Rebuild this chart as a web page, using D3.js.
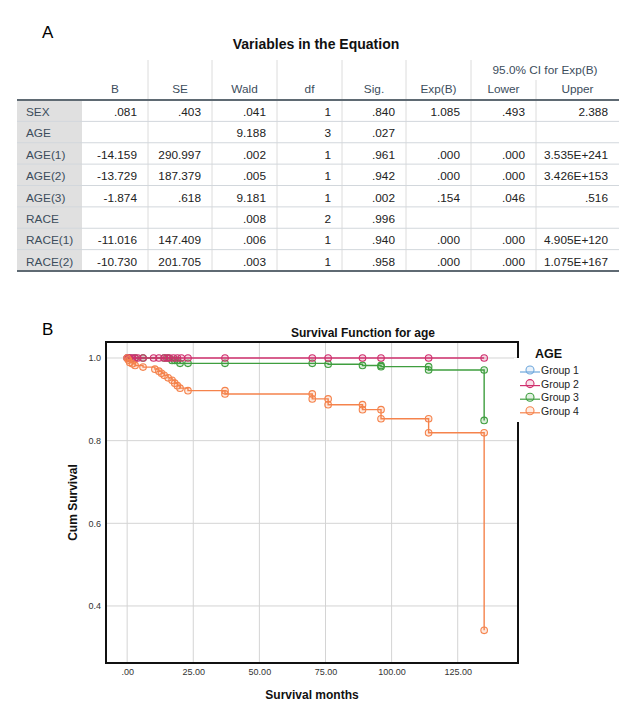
<!DOCTYPE html>
<html>
<head>
<meta charset="utf-8">
<script src="https://cdn.jsdelivr.net/npm/d3@7"></script>
<style>
  body { margin: 0; background: #fff; }
  svg { display: block; font-family: Arial, "Liberation Sans", sans-serif; }
</style>
</head>
<body>
<svg id="fig" width="636" height="718"></svg>
<script>
// ---- table data (panel A)
var rowLabels = ['SEX', 'AGE', 'AGE(1)', 'AGE(2)', 'AGE(3)', 'RACE', 'RACE(1)', 'RACE(2)']
var colHeaders = ['B', 'SE', 'Wald', 'df', 'Sig.', 'Exp(B)', 'Lower', 'Upper']
var colB = ['.081', '', '-14.159', '-13.729', '-1.874', '', '-11.016', '-10.730']
var colSE = ['.403', '', '290.997', '187.379', '.618', '', '147.409', '201.705']
var colWald = ['.041', '9.188', '.002', '.005', '9.181', '.008', '.006', '.003']
var colDf = ['1', '3', '1', '1', '1', '2', '1', '1']
var colSig = ['.840', '.027', '.961', '.942', '.002', '.996', '.940', '.958']
var colExpB = ['1.085', '', '.000', '.000', '.154', '', '.000', '.000']
var colLower = ['.493', '', '.000', '.000', '.046', '', '.000', '.000']
var colUpper = ['2.388', '', '3.535E+241', '3.426E+153', '.516', '', '4.905E+120', '1.075E+167']

// ---- survival data (panel B), step points [time, cum survival] and censor marks
var groups = ['Group 1', 'Group 2', 'Group 3', 'Group 4']
var colors = ['#6fa8dc', '#d0306e', '#3f9e3f', '#f5834c']

var g1Times = [0, 1.5]
var g1Surv = [1.0, 1.0]
var g1CensT = [0, 0.5, 1.5]
var g1CensS = [1.0, 1.0, 1.0]

var g2Times = [0, 135]
var g2Surv = [1.0, 1.0]
var g2CensT = [0, 0.5, 1, 2, 3, 4, 6, 10, 12, 14, 15, 16, 17.5, 19, 20.5, 23, 37, 70, 76, 89, 96, 114, 135]
var g2CensS = [1, 1, 1, 1, 1, 1, 1, 1, 1, 1, 1, 1, 1, 1, 1, 1, 1, 1, 1, 1, 1, 1, 1]

var g3Times = [0, 17, 20, 76, 89, 96, 114, 135]
var g3Surv = [1.0, 0.994, 0.987, 0.985, 0.982, 0.979, 0.971, 0.849]
var g3CensT = [3, 6, 14, 15.5, 17, 18, 19, 20, 23, 37, 70, 76, 89, 96, 96, 114, 114, 135, 135]
var g3CensS = [1, 1, 1, 1, 0.994, 0.994, 0.994, 0.987, 0.987, 0.987, 0.987, 0.985, 0.982, 0.982, 0.979, 0.979, 0.971, 0.971, 0.849]

var g4Times = [0, 0, 1, 2, 3, 6, 10.5, 12, 13, 14, 15.5, 17, 18, 19, 20, 23, 37, 70, 76, 89, 96, 114, 135]
var g4Surv = [1.0, 0.993, 0.989, 0.986, 0.982, 0.978, 0.973, 0.968, 0.963, 0.958, 0.952, 0.946, 0.939, 0.933, 0.927, 0.921, 0.913, 0.901, 0.887, 0.875, 0.853, 0.819, 0.341]
var g4CensT = [0, 0.5, 1, 2, 3, 6, 10.5, 12, 13, 14, 15.5, 17, 18, 19, 20, 23, 37, 37, 70, 70, 76, 76, 89, 89, 96, 96, 114, 114, 135, 135]
var g4CensS = [1.0, 0.995, 0.989, 0.986, 0.982, 0.978, 0.973, 0.968, 0.963, 0.958, 0.952, 0.946, 0.939, 0.933, 0.927, 0.921, 0.921, 0.913, 0.913, 0.901, 0.901, 0.887, 0.887, 0.875, 0.875, 0.853, 0.853, 0.819, 0.819, 0.341]

var xTicks = [0, 25, 50, 75, 100, 125]
var yTicks = [0.4, 0.6, 0.8, 1.0]

var svg = d3.select('#fig')

/*
  --------------------------------------
  Panel A: table
*/
svg.append('text').attr('x', 42).attr('y', 38).attr('font-size', 17).text('A')
svg.append('text').attr('x', 316).attr('y', 49).attr('text-anchor', 'middle')
  .attr('font-size', 14).attr('font-weight', 'bold').attr('fill', '#111')
  .text('Variables in the Equation')

var colEdges = [17, 82, 148, 212, 277, 342, 406, 471, 536, 619]
var columns = [colB, colSE, colWald, colDf, colSig, colExpB, colLower, colUpper]
var rowY = d3.scaleBand().domain(rowLabels).range([100, 271])
var tbl = svg.append('g').attr('font-size', 11.8)

// row label shading
tbl.append('rect').attr('x', colEdges[0]).attr('y', 100)
  .attr('width', colEdges[1] - colEdges[0]).attr('height', 171).attr('fill', '#e0e0e0')

// vertical separators
colEdges.slice(2, 9).forEach(function (x, i) {
  var y0 = (i === 6) ? 80 : 60
  tbl.append('line').attr('x1', x).attr('x2', x).attr('y1', y0).attr('y2', 271)
    .attr('stroke', '#dcdcdc').attr('stroke-width', 1)
})

// row separators
rowLabels.slice(1).forEach(function (r) {
  tbl.append('line').attr('x1', colEdges[0]).attr('x2', colEdges[9])
    .attr('y1', rowY(r)).attr('y2', rowY(r))
    .attr('stroke', '#d2d7dc').attr('stroke-width', 1)
})

tbl.append('line').attr('x1', colEdges[0]).attr('x2', colEdges[9]).attr('y1', 100).attr('y2', 100)
  .attr('stroke', '#5f6a73').attr('stroke-width', 2)
tbl.append('line').attr('x1', colEdges[0]).attr('x2', colEdges[9]).attr('y1', 271).attr('y2', 271)
  .attr('stroke', '#5f6a73').attr('stroke-width', 2)

// headers
tbl.append('text').attr('x', (colEdges[7] + colEdges[9]) / 2).attr('y', 74)
  .attr('text-anchor', 'middle').attr('fill', '#3c4d5c').text('95.0% CI for Exp(B)')
colHeaders.forEach(function (h, i) {
  tbl.append('text').attr('x', (colEdges[i + 1] + colEdges[i + 2]) / 2).attr('y', 93)
    .attr('text-anchor', 'middle').attr('fill', '#3c4d5c').text(h)
})

// row labels and cells
rowLabels.forEach(function (r, j) {
  tbl.append('text').attr('x', colEdges[0] + 9).attr('y', rowY(r) + 16)
    .attr('fill', '#3c4d5c').text(r)
  columns.forEach(function (col, i) {
    tbl.append('text').attr('x', colEdges[i + 2] - 11).attr('y', rowY(r) + 16)
      .attr('text-anchor', 'end').attr('fill', '#222').text(col[j])
  })
})

/*
  --------------------------------------
  Panel B: survival function
*/
svg.append('text').attr('x', 42).attr('y', 335).attr('font-size', 17).text('B')

var pL = 106, pR = 518, pT = 342, pB = 663
var x = d3.scaleLinear().domain([-8, 147.8]).range([pL, pR])
var y = d3.scaleLinear().domain([0.262, 1.0387]).range([pB, pT])

var plot = svg.append('g')

// grid
plot.selectAll('.vgrid').data(xTicks).enter().append('line')
  .attr('x1', d => x(d)).attr('x2', d => x(d)).attr('y1', pT).attr('y2', pB)
  .attr('stroke', '#d4d4d4').attr('stroke-width', 1)
plot.selectAll('.hgrid').data(yTicks).enter().append('line')
  .attr('x1', pL).attr('x2', pR).attr('y1', d => y(d)).attr('y2', d => y(d))
  .attr('stroke', '#d4d4d4').attr('stroke-width', 1)

// axes
var xAxis = d3.axisBottom(x).tickValues(xTicks).tickSize(0).tickPadding(6)
  .tickFormat(d => d === 0 ? '.00' : d3.format('.2f')(d))
var yAxis = d3.axisLeft(y).tickValues(yTicks).tickSize(0).tickPadding(5)
  .tickFormat(d3.format('.1f'))

var gx = plot.append('g').attr('transform', `translate(0,${pB})`).call(xAxis)
var gy = plot.append('g').attr('transform', `translate(${pL},0)`).call(yAxis)
;[gx, gy].forEach(function (g) {
  g.select('.domain').remove()
  g.selectAll('text').attr('font-size', 9).attr('fill', '#333')
    .attr('font-family', 'Arial, "Liberation Sans", sans-serif')
})

// curves
var series = [
  {t: g1Times, s: g1Surv, ct: g1CensT, cs: g1CensS, c: colors[0]},
  {t: g3Times, s: g3Surv, ct: g3CensT, cs: g3CensS, c: colors[2]},
  {t: g2Times, s: g2Surv, ct: g2CensT, cs: g2CensS, c: colors[1]},
  {t: g4Times, s: g4Surv, ct: g4CensT, cs: g4CensS, c: colors[3]}
]
var line = d3.line().x(d => x(d[0])).y(d => y(d[1])).curve(d3.curveStepAfter)

series.forEach(function (sr) {
  var pts = sr.t.map((t, i) => [t, sr.s[i]])
  plot.append('path').attr('d', line(pts)).attr('fill', 'none')
    .attr('stroke', sr.c).attr('stroke-width', 1.4)
  var marks = sr.ct.map((t, i) => [t, sr.cs[i]])
  plot.append('g').selectAll('circle').data(marks).enter().append('circle')
    .attr('cx', d => x(d[0])).attr('cy', d => y(d[1])).attr('r', 3.3)
    .attr('fill', sr.c).attr('fill-opacity', 0.18)
    .attr('stroke', sr.c).attr('stroke-width', 1.1)
})

// frame
plot.append('rect').attr('x', pL).attr('y', pT).attr('width', pR - pL)
  .attr('height', pB - pT).attr('fill', 'none').attr('stroke', '#111').attr('stroke-width', 2)

// titles
svg.append('text').attr('x', 363).attr('y', 337).attr('text-anchor', 'middle')
  .attr('font-size', 12).attr('font-weight', 'bold').attr('fill', '#111')
  .text('Survival Function for age')
svg.append('text').attr('x', (pL + pR) / 2).attr('y', 699).attr('text-anchor', 'middle')
  .attr('font-size', 12).attr('font-weight', 'bold').attr('fill', '#111').text('Survival months')
svg.append('text').attr('transform', `translate(77,${(pT + pB) / 2}) rotate(-90)`)
  .attr('text-anchor', 'middle').attr('font-size', 12).attr('font-weight', 'bold')
  .attr('fill', '#111').text('Cum Survival')

// legend
var lg = svg.append('g')
lg.append('rect').attr('x', 514).attr('y', 358).attr('width', 96).attr('height', 64).attr('fill', '#fff')
lg.append('text').attr('x', 535).attr('y', 358).attr('font-size', 12.5).attr('font-weight', 'bold')
  .attr('fill', '#111').text('AGE')
groups.forEach(function (gname, i) {
  var cy = 370 + i * 13.6
  lg.append('line').attr('x1', 520).attr('x2', 540).attr('y1', cy + 2).attr('y2', cy + 2)
    .attr('stroke', colors[i]).attr('stroke-width', 1.2)
  lg.append('circle').attr('cx', 530).attr('cy', cy).attr('r', 4)
    .attr('fill', colors[i]).attr('fill-opacity', 0.15).attr('stroke', colors[i]).attr('stroke-width', 1.1)
  lg.append('text').attr('x', 541).attr('y', cy + 4).attr('font-size', 10.5).attr('fill', '#222').text(gname)
})
</script>
</body>
</html>
